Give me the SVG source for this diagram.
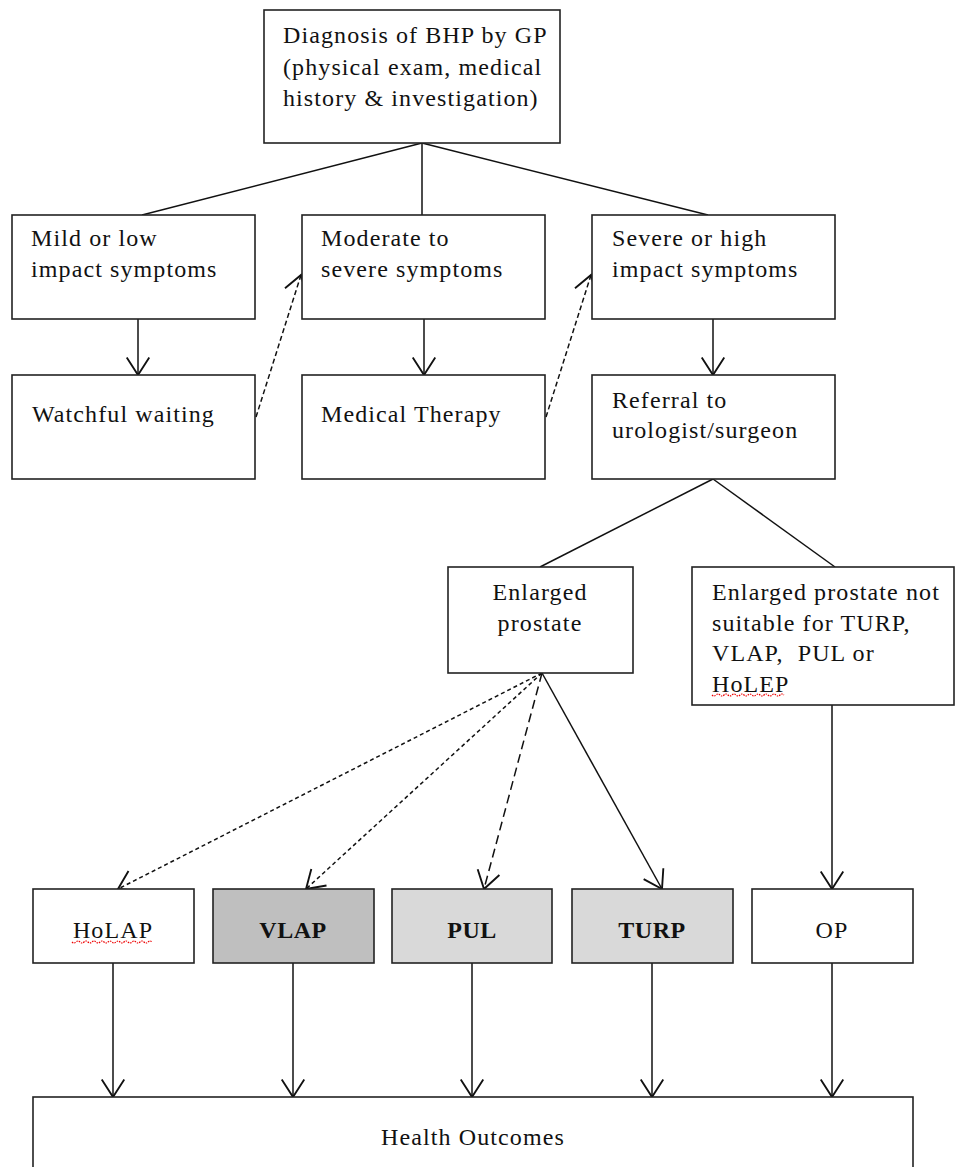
<svg xmlns="http://www.w3.org/2000/svg" width="956" height="1167" viewBox="0 0 956 1167">
<style>
.box{fill:#fff;stroke:#222;stroke-width:1.6}
.dark{fill:#bfbfbf}
.light{fill:#d9d9d9}
.t{font-family:"Liberation Serif","Times New Roman",serif;font-size:24px;fill:#111;letter-spacing:1.1px}
.b{font-weight:bold;letter-spacing:0.5px}
.c{text-anchor:middle}
.ln{fill:none;stroke:#111;stroke-width:1.5}
.d1{stroke-dasharray:5 3}
.d2{stroke-dasharray:4 3}
.d3{stroke-dasharray:9 5}
.sq{fill:none;stroke:#e00;stroke-width:1.2;stroke-dasharray:1.5 1}
</style>
<defs>
<marker id="arr" markerUnits="userSpaceOnUse" markerWidth="30" markerHeight="30" viewBox="-16 -12 20 24" refX="0" refY="0" orient="auto">
<path d="M-14,-9 L0,0 L-14,9" fill="none" stroke="#111" stroke-width="1.5"/>
</marker>
</defs>
<g id="connectors">
<path class="ln" d="M422,143 L142,215"/>
<path class="ln" d="M422,143 L422,215"/>
<path class="ln" d="M422,143 L708,215"/>
<path class="ln" d="M138,319 L138,375" marker-end="url(#arr)"/>
<path class="ln" d="M424,319 L424,375" marker-end="url(#arr)"/>
<path class="ln" d="M713,319 L713,375" marker-end="url(#arr)"/>
<path class="ln d1" d="M256,417 L301,275" marker-end="url(#arr)"/>
<path class="ln d1" d="M546,417 L591,275" marker-end="url(#arr)"/>
<path class="ln" d="M713,479 L540,567"/>
<path class="ln" d="M713,479 L835,567"/>
<path class="ln d2" d="M542,673 L118,889" marker-end="url(#arr)"/>
<path class="ln d2" d="M542,673 L306,889" marker-end="url(#arr)"/>
<path class="ln d3" d="M542,673 L484,889" marker-end="url(#arr)"/>
<path class="ln" d="M542,673 L662,889" marker-end="url(#arr)"/>
<path class="ln" d="M832,705 L832,889" marker-end="url(#arr)"/>
<path class="ln" d="M113,963 L113,1097" marker-end="url(#arr)"/>
<path class="ln" d="M293,963 L293,1097" marker-end="url(#arr)"/>
<path class="ln" d="M472,963 L472,1097" marker-end="url(#arr)"/>
<path class="ln" d="M652,963 L652,1097" marker-end="url(#arr)"/>
<path class="ln" d="M832,963 L832,1097" marker-end="url(#arr)"/>
</g>
<g id="diagnosis">
<rect class="box" x="264" y="10" width="296" height="133"/>
<text class="t" x="283" y="43">Diagnosis of BHP by GP</text>
<text class="t" x="283" y="75">(physical exam, medical</text>
<text class="t" x="283" y="106">history &amp; investigation)</text>
</g>
<g id="mild">
<rect class="box" x="12" y="215" width="243" height="104"/>
<text class="t" x="31" y="246">Mild or low</text>
<text class="t" x="31" y="277">impact symptoms</text>
</g>
<g id="moderate">
<rect class="box" x="302" y="215" width="243" height="104"/>
<text class="t" x="321" y="246">Moderate to</text>
<text class="t" x="321" y="277">severe symptoms</text>
</g>
<g id="severe">
<rect class="box" x="592" y="215" width="243" height="104"/>
<text class="t" x="612" y="246">Severe or high</text>
<text class="t" x="612" y="277">impact symptoms</text>
</g>
<g id="watchful">
<rect class="box" x="12" y="375" width="243" height="104"/>
<text class="t" x="32" y="422">Watchful waiting</text>
</g>
<g id="medical">
<rect class="box" x="302" y="375" width="243" height="104"/>
<text class="t" x="321" y="422">Medical Therapy</text>
</g>
<g id="referral">
<rect class="box" x="592" y="375" width="243" height="104"/>
<text class="t" x="612" y="408">Referral to</text>
<text class="t" x="612" y="438">urologist/surgeon</text>
</g>
<g id="enlarged">
<rect class="box" x="448" y="567" width="185" height="106"/>
<text class="t c" x="540" y="600">Enlarged</text>
<text class="t c" x="540" y="631">prostate</text>
</g>
<g id="notsuitable">
<rect class="box" x="692" y="567" width="262" height="138"/>
<text class="t" x="712" y="600">Enlarged prostate not</text>
<text class="t" x="712" y="631">suitable for TURP,</text>
<text class="t" x="712" y="661" xml:space="preserve">VLAP,  PUL or</text>
<text class="t" x="712" y="692">HoLEP</text>
<path class="sq" d="M712,695 q2,2 4,0 t4,0 t4,0 t4,0 t4,0 t4,0 t4,0 t4,0 t4,0 t4,0 t4,0 t4,0 t4,0 t4,0 t4,0 t4,0 t4,0 t4,0"/>
</g>
<g id="holap">
<rect class="box" x="33" y="889" width="161" height="74"/>
<text class="t c" x="113" y="938">HoLAP</text>
<path class="sq" d="M72,942 q2,2 4,0 t4,0 t4,0 t4,0 t4,0 t4,0 t4,0 t4,0 t4,0 t4,0 t4,0 t4,0 t4,0 t4,0 t4,0 t4,0 t4,0 t4,0 t4,0 t4,0"/>
</g>
<g id="vlap">
<rect class="box dark" x="213" y="889" width="161" height="74"/>
<text class="t b c" x="293" y="938">VLAP</text>
</g>
<g id="pul">
<rect class="box light" x="392" y="889" width="160" height="74"/>
<text class="t b c" x="472" y="938">PUL</text>
</g>
<g id="turp">
<rect class="box light" x="572" y="889" width="161" height="74"/>
<text class="t b c" x="652" y="938">TURP</text>
</g>
<g id="op">
<rect class="box" x="752" y="889" width="161" height="74"/>
<text class="t c" x="832" y="938">OP</text>
</g>
<g id="outcomes">
<rect class="box" x="33" y="1097" width="880" height="90"/>
<text class="t c" x="473" y="1145">Health Outcomes</text>
</g>
</svg>
